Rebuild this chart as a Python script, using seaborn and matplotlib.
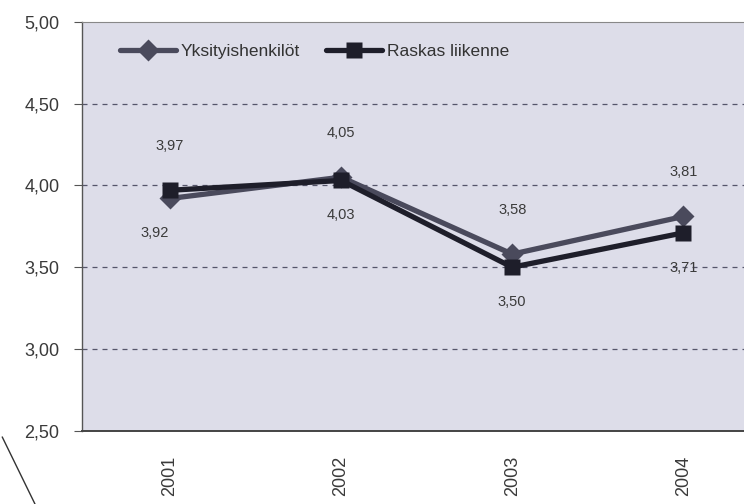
import numpy as np
import pandas as pd
import matplotlib
matplotlib.use('Agg')
import matplotlib.pyplot as plt
from matplotlib.lines import Line2D
import seaborn as sns

# data
years = ['2001', '2002', '2003', '2004']
yksityis = [3.92, 4.05, 3.58, 3.81]
raskas = [3.97, 4.03, 3.50, 3.71]
series_names = ['Yksityishenkilöt', 'Raskas liikenne']

df = pd.DataFrame({
    'vuosi': list(range(len(years))) * 2,
    'arvo': yksityis + raskas,
    'sarja': [series_names[0]] * len(years) + [series_names[1]] * len(years),
})

sns.set_style('white')
plt.rcParams['font.family'] = ['Liberation Sans Narrow', 'Liberation Sans', 'DejaVu Sans']

fig = plt.figure(figsize=(7.44, 5.04), dpi=100)
ax = fig.add_axes([0.110, 0.145, 0.92, 0.812])
ax.set_facecolor('#dddde9')

palette = {series_names[0]: '#4a4a5c', series_names[1]: '#1e1e2a'}
sns.lineplot(data=df, x='vuosi', y='arvo', hue='sarja', style='sarja',
             markers={series_names[0]: 'D', series_names[1]: 's'},
             dashes=False, palette=palette, linewidth=3.8, markersize=11,
             markeredgecolor='none', ax=ax, zorder=3)

ax.set_xlim(-0.515, 3.485)
ax.set_ylim(2.5, 5.0)
ax.set_yticks([2.5, 3.0, 3.5, 4.0, 4.5, 5.0])
ax.set_yticklabels([f'{v:.2f}'.replace('.', ',') for v in ax.get_yticks()])
ax.set_xticks(range(len(years)))
ax.set_xticklabels(years, rotation=90)
ax.set_xlabel('')
ax.set_ylabel('')

for v in [3.0, 3.5, 4.0, 4.5]:
    ax.axhline(v, color='#55556a', linestyle=(0, (4, 4)), linewidth=0.9, zorder=1)

ax.tick_params(axis='y', length=6, width=0.8, color='#555', labelsize=13,
               labelcolor='#3a3a3a', pad=10, left=True)
ax.tick_params(axis='x', length=0, labelsize=13, labelcolor='#3a3a3a', pad=18)

ax.spines['right'].set_visible(False)
ax.spines['top'].set_color('#888')
ax.spines['top'].set_linestyle((0, (1, 1)))
ax.spines['top'].set_linewidth(0.8)
ax.spines['left'].set_color('#555')
ax.spines['bottom'].set_color('#444')
ax.spines['left'].set_linewidth(1.0)
ax.spines['bottom'].set_linewidth(1.4)

# arvojen tekstit
lbl = lambda v: f'{v:.2f}'.replace('.', ',')
up = [(0, raskas[0]), (1, yksityis[1]), (2, yksityis[2]), (3, yksityis[3])]
down = [(0, yksityis[0]), (1, raskas[1]), (2, raskas[2]), (3, raskas[3])]
for i, v in up:
    ax.annotate(lbl(v), (i, v), xytext=(0, 32), textcoords='offset points',
                ha='center', va='center', fontsize=10.5, color='#3a3a3a')
for i, v in down:
    dx = -11 if i == 0 else 0
    ax.annotate(lbl(v), (i, v), xytext=(dx, -25), textcoords='offset points',
                ha='center', va='center', fontsize=10.5, color='#3a3a3a')

leg = ax.legend(loc='upper left', bbox_to_anchor=(0.033, 0.985), ncol=2,
                frameon=False, fontsize=12.5, handlelength=3.2,
                columnspacing=1.5, handletextpad=0.3)
for t in leg.get_texts():
    t.set_color('#333')

# viiva vasemmassa alakulmassa
fig.add_artist(Line2D([0.003, 0.047], [0.133, 0.0], color='#333', linewidth=1.0))

fig.savefig('out.png', dpi=100)
